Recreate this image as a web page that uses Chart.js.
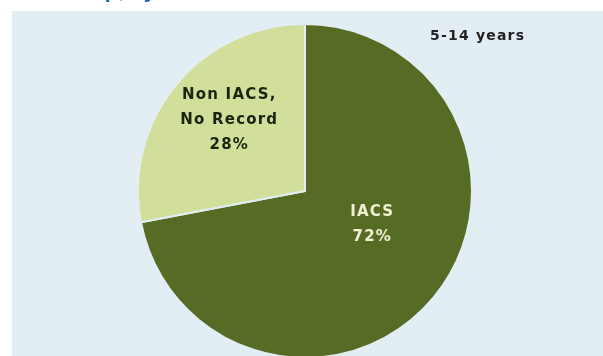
<!DOCTYPE html>
<html>
<head>
<meta charset="utf-8">
<script src="https://cdn.jsdelivr.net/npm/chart.js@4/dist/chart.umd.min.js"></script>
<style>
  html, body { margin: 0; padding: 0; background: #ffffff; width: 603px; height: 356px; overflow: hidden; position: relative; }
  #title { position: absolute; left: 52px; top: -23px; font: bold 22px "Liberation Sans", Arial, sans-serif; color: #1b5fcf; white-space: nowrap; }
  #panel { position: absolute; left: 12px; top: 11px; width: 591px; height: 345px; background: #e2eef4; }
  #wrap { position: absolute; left: 0; top: 0; width: 603px; height: 380px; }
</style>
</head>
<body>
<div id="title">Group, by Status</div>
<div id="panel"></div>
<div id="wrap"><canvas id="c" width="603" height="380"></canvas></div>
<script>
const categories = ["IACS", "Non IACS, No Record"];
const labelLines = [["IACS", "72%"], ["Non IACS,", "No Record", "28%"]];
const values = [72, 28];
const sliceColors = ["#566c24", "#d2df9a"];
const subtitle = "5-14 years";

const labelPlugin = {
  id: "sliceLabels",
  afterDatasetsDraw(chart) {
    const ctx = chart.ctx;
    const meta = chart.getDatasetMeta(0);
    const place = [{ frac: 0.45, dAng: -0.23, color: "#f1f0d4" }, { frac: 0.62, dAng: 0.06, color: "#1c2410" }];
    ctx.save();
    ctx.font = "bold 15px 'DejaVu Sans', Verdana, sans-serif";
    ctx.letterSpacing = "1.2px";
    ctx.textAlign = "center";
    ctx.textBaseline = "middle";
    meta.data.forEach((arc, i) => {
      const p = arc.getProps(["x", "y", "startAngle", "endAngle", "outerRadius"], true);
      const a = (p.startAngle + p.endAngle) / 2 + place[i].dAng;
      const r = p.outerRadius * place[i].frac;
      const cx = p.x + Math.cos(a) * r;
      const cy = p.y + Math.sin(a) * r;
      const lines = labelLines[i];
      const lh = 25;
      ctx.fillStyle = place[i].color;
      lines.forEach((t, k) => {
        ctx.fillText(t, cx, cy + (k - (lines.length - 1) / 2) * lh);
      });
    });
    ctx.font = "bold 14px 'DejaVu Sans', Verdana, sans-serif";
    ctx.letterSpacing = "1.2px";
    ctx.fillStyle = "#222222";
    ctx.textAlign = "left";
    ctx.fillText(subtitle, 430, 36);
    ctx.restore();
  }
};

new Chart(document.getElementById("c"), {
  type: "pie",
  data: {
    labels: categories,
    datasets: [{
      data: values,
      backgroundColor: sliceColors,
      borderColor: "#e2eef4",
      borderWidth: 2
    }]
  },
  options: {
    responsive: false,
    animation: false,
    layout: { padding: { left: 7, top: 23, bottom: 21 } },
    plugins: {
      legend: { display: false },
      tooltip: { enabled: false },
      title: { display: false }
    }
  },
  plugins: [labelPlugin]
});
</script>
</body>
</html>
